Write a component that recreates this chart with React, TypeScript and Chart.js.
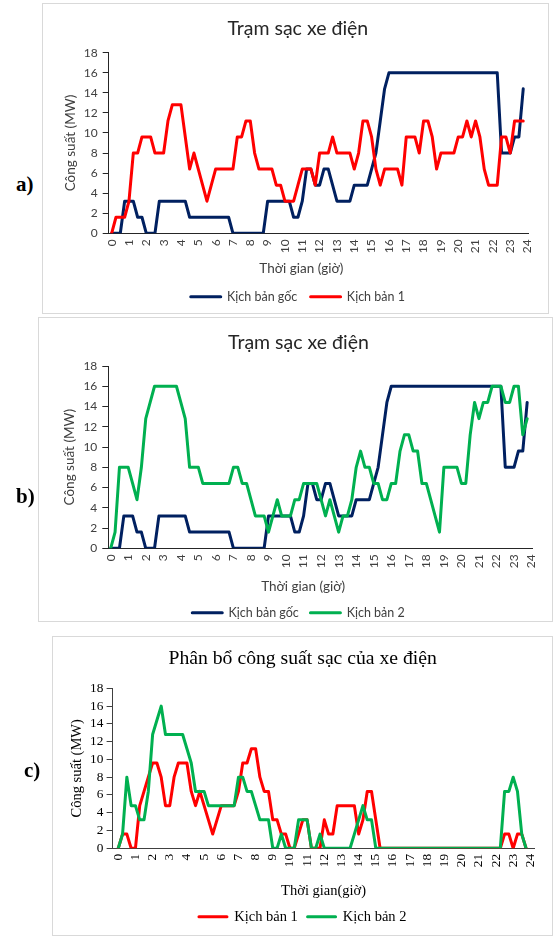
import React, { useEffect, useRef } from "react";
import { Chart, registerables } from "chart.js";

Chart.register(...registerables);

// ---------------- data ----------------
const STEP_HOURS = 0.25;
const HOUR_TICKS = [0, 1, 2, 3, 4, 5, 6, 7, 8, 9, 10, 11, 12, 13, 14, 15, 16, 17, 18, 19, 20, 21, 22, 23, 24];
const Y_MIN = 0;
const Y_MAX = 18;
const Y_STEP = 2;

const LBL_BASE = "Kịch bản gốc";
const LBL_S1 = "Kịch bản 1";
const LBL_S2 = "Kịch bản 2";

// Kịch bản gốc (MW), every 15 minutes from 0:00
const BASE_MW = [
  0, 0, 0, 3.2, 3.2, 3.2, 1.6, 1.6, 0, 0, 0, 3.2,
  3.2, 3.2, 3.2, 3.2, 3.2, 3.2, 1.6, 1.6, 1.6, 1.6, 1.6, 1.6,
  1.6, 1.6, 1.6, 1.6, 0, 0, 0, 0, 0, 0, 0, 0,
  3.2, 3.2, 3.2, 3.2, 3.2, 3.2, 1.6, 1.6, 3.2, 6.4, 6.4, 4.8,
  4.8, 6.4, 6.4, 4.8, 3.2, 3.2, 3.2, 3.2, 4.8, 4.8, 4.8, 4.8,
  6.4, 8.0, 11.2, 14.4, 16, 16, 16, 16, 16, 16, 16, 16,
  16, 16, 16, 16, 16, 16, 16, 16, 16, 16, 16, 16,
  16, 16, 16, 16, 16, 16, 8, 8, 8, 9.6, 9.6, 14.4,
];

// Kịch bản 1 – trạm sạc (MW)
const SCENARIO1_MW = [
  0, 1.6, 1.6, 1.6, 3.2, 8.0, 8.0, 9.6, 9.6, 9.6, 8.0, 8.0,
  8.0, 11.2, 12.8, 12.8, 12.8, 9.6, 6.4, 8.0, 6.4, 4.8, 3.2, 4.8,
  6.4, 6.4, 6.4, 6.4, 6.4, 9.6, 9.6, 11.2, 11.2, 8.0, 6.4, 6.4,
  6.4, 6.4, 4.8, 4.8, 3.2, 3.2, 3.2, 4.8, 6.4, 6.4, 6.4, 4.8,
  8.0, 8.0, 8.0, 9.6, 8.0, 8.0, 8.0, 8.0, 6.4, 8.0, 11.2, 11.2,
  9.6, 6.4, 4.8, 6.4, 6.4, 6.4, 6.4, 4.8, 9.6, 9.6, 9.6, 8.0,
  11.2, 11.2, 9.6, 6.4, 8.0, 8.0, 8.0, 8.0, 9.6, 9.6, 11.2, 9.6,
  11.2, 9.6, 6.4, 4.8, 4.8, 4.8, 9.6, 9.6, 8.0, 11.2, 11.2, 11.2,
];

// Kịch bản 2 – trạm sạc (MW)
const SCENARIO2_MW = [
  0, 1.6, 8.0, 8.0, 8.0, 6.4, 4.8, 8.0, 12.8, 14.4, 16, 16,
  16, 16, 16, 16, 14.4, 12.8, 8.0, 8.0, 8.0, 6.4, 6.4, 6.4,
  6.4, 6.4, 6.4, 6.4, 8.0, 8.0, 6.4, 6.4, 4.8, 3.2, 3.2, 3.2,
  1.6, 3.2, 4.8, 3.2, 3.2, 3.2, 4.8, 4.8, 6.4, 6.4, 6.4, 6.4,
  4.8, 3.2, 4.8, 3.2, 1.6, 3.2, 3.2, 4.8, 8.0, 9.6, 8.0, 8.0,
  6.4, 6.4, 4.8, 4.8, 6.4, 6.4, 9.6, 11.2, 11.2, 9.6, 9.6, 6.4,
  6.4, 4.8, 3.2, 1.6, 8.0, 8.0, 8.0, 8.0, 6.4, 6.4, 11.2, 14.4,
  12.8, 14.4, 14.4, 16, 16, 16, 14.4, 14.4, 16, 16, 11.2, 12.8,
];

// Phân bổ công suất sạc – Kịch bản 1 (MW)
const ALLOC1_MW = [
  0, 1.6, 1.6, 0, 0, 4.8, 6.4, 8.0, 9.6, 9.6, 8.0, 4.8,
  4.8, 8.0, 9.6, 9.6, 9.6, 6.4, 4.8, 6.4, 4.8, 3.2, 1.6, 3.2,
  4.8, 4.8, 4.8, 4.8, 6.4, 9.6, 9.6, 11.2, 11.2, 8.0, 6.4, 6.4,
  3.2, 3.2, 1.6, 1.6, 0, 0, 1.6, 3.2, 3.2, 0, 0, 0,
  3.2, 1.6, 1.6, 4.8, 4.8, 4.8, 4.8, 4.8, 1.6, 3.2, 6.4, 6.4,
  3.2, 0, 0, 0, 0, 0, 0, 0, 0, 0, 0, 0,
  0, 0, 0, 0, 0, 0, 0, 0, 0, 0, 0, 0,
  0, 0, 0, 0, 0, 0, 1.6, 1.6, 0, 1.6, 1.6, 0,
];

// Phân bổ công suất sạc – Kịch bản 2 (MW)
const ALLOC2_MW = [
  0, 1.6, 8.0, 4.8, 4.8, 3.2, 3.2, 6.4, 12.8, 14.4, 16, 12.8,
  12.8, 12.8, 12.8, 12.8, 11.2, 9.6, 6.4, 6.4, 6.4, 4.8, 4.8, 4.8,
  4.8, 4.8, 4.8, 4.8, 8.0, 8.0, 6.4, 6.4, 4.8, 3.2, 3.2, 3.2,
  0, 0, 1.6, 0, 0, 0, 3.2, 3.2, 3.2, 0, 0, 1.6,
  0, 0, 0, 0, 0, 0, 0, 1.6, 3.2, 4.8, 3.2, 3.2,
  0, 0, 0, 0, 0, 0, 0, 0, 0, 0, 0, 0,
  0, 0, 0, 0, 0, 0, 0, 0, 0, 0, 0, 0,
  0, 0, 0, 0, 0, 0, 6.4, 6.4, 8.0, 6.4, 1.6, 0,
];

const NAVY = "#002060";
const RED = "#FF0000";
const GREEN = "#00B050";

// ---------------- panel specs ----------------
type Series = { label: string; values: number[]; color: string };
type Spec = {
  box: { x: number; y: number; w: number; h: number };
  area: { l: number; r: number; t: number; b: number };
  xMin: number;
  xMax: number;
  title: string;
  titleCY: number;
  titleFont: number;
  titleColor: string;
  xTitle: string;
  xTitleCY: number;
  xTitleShift: number;
  yTitle: string;
  yTitleCX: number;
  legendCY: number;
  legendBox: number;
  family: string;
  tickFont: number;
  axisFont: number;
  legendFont: number;
  textColor: string;
  axisColor: string;
  yTickPad: number;
  xTickPad: number;
  series: Series[];
};

const SANS = "Lato, 'Liberation Sans', sans-serif";
const SERIF = "'Liberation Serif', 'Times New Roman', serif";

const PANELS: Spec[] = [
  {
    box: { x: 42, y: 3, w: 507, h: 311 },
    area: { l: 108.7, r: 532.75, t: 52.7, b: 233.3 },
    xMin: -0.17,
    xMax: 24.06,
    title: "Trạm sạc xe điện",
    titleCY: 28.5,
    titleFont: 19.5,
    titleColor: "#262626",
    xTitle: "Thời gian (giờ)",
    xTitleCY: 269,
    xTitleShift: -17,
    yTitle: "Công suất (MW)",
    yTitleCX: 71,
    legendCY: 296.7,
    legendBox: 30,
    family: SANS,
    tickFont: 12,
    axisFont: 13.5,
    legendFont: 12.5,
    textColor: "#404040",
    axisColor: "#262626",
    yTickPad: 5,
    xTickPad: 6,
    series: [
      { label: LBL_BASE, values: BASE_MW, color: NAVY },
      { label: LBL_S1, values: SCENARIO1_MW, color: RED },
    ],
  },
  {
    box: { x: 38, y: 317, w: 515, h: 305 },
    area: { l: 108.3, r: 535.1, t: 366, b: 548.3 },
    xMin: -0.136,
    xMax: 24.06,
    title: "Trạm sạc xe điện",
    titleCY: 342.7,
    titleFont: 19.5,
    titleColor: "#262626",
    xTitle: "Thời gian (giờ)",
    xTitleCY: 586.7,
    xTitleShift: -18,
    yTitle: "Công suất (MW)",
    yTitleCX: 70,
    legendCY: 612.7,
    legendBox: 30,
    family: SANS,
    tickFont: 12,
    axisFont: 13.5,
    legendFont: 12.5,
    textColor: "#404040",
    axisColor: "#262626",
    yTickPad: 5,
    xTickPad: 6,
    series: [
      { label: LBL_BASE, values: BASE_MW, color: NAVY },
      { label: LBL_S2, values: SCENARIO2_MW, color: GREEN },
    ],
  },
  {
    box: { x: 52, y: 636, w: 501, h: 300 },
    area: { l: 112.6, r: 536.6, t: 688.3, b: 848.3 },
    xMin: -0.33,
    xMax: 24.25,
    title: "Phân bổ công suất sạc của xe điện",
    titleCY: 659.3,
    titleFont: 19.7,
    titleColor: "#000000",
    xTitle: "Thời gian(giờ)",
    xTitleCY: 891,
    xTitleShift: 0,
    yTitle: "Công suất (MW)",
    yTitleCX: 77.5,
    legendCY: 916.7,
    legendBox: 28,
    family: SERIF,
    tickFont: 13.33,
    axisFont: 14.5,
    legendFont: 14.5,
    textColor: "#000000",
    axisColor: "#404040",
    yTickPad: 3.3,
    xTickPad: 5.5,
    series: [
      { label: LBL_S1, values: ALLOC1_MW, color: RED },
      { label: LBL_S2, values: ALLOC2_MW, color: GREEN },
    ],
  },
];

// pad a centred title with trailing no-break spaces so that its visible text sits `shift` px to the left
function shiftedText(text: string, shift: number, font: string): string {
  if (!shift) return text;
  const ctx = document.createElement("canvas").getContext("2d");
  if (!ctx) return text;
  ctx.font = font;
  const w = ctx.measureText("\u00A0").width || 3;
  const count = Math.max(0, Math.round((2 * Math.abs(shift)) / w));
  return shift < 0 ? text + "\u00A0".repeat(count) : "\u00A0".repeat(count) + text;
}

function Panel({ s }: { s: Spec }) {
  const ref = useRef<HTMLCanvasElement>(null);
  const cx = s.box.x + 1;
  const cy = s.box.y + 1;
  const cw = s.box.w - 2;
  const axisLH = s.axisFont * 1.2;
  const Hx = s.xTitleCY - s.area.b + axisLH / 2;
  const legendTop = s.area.b + Hx;
  const legendPad = s.legendCY - legendTop - s.legendFont / 2;
  const legendH = s.legendFont + legendPad + 10;
  const bottomExact = legendTop + legendH - cy;
  const ch = Math.ceil(bottomExact);
  const padBottom = ch - bottomExact;
  const titleLH = s.titleFont * 1.2;
  const titlePadTop = s.titleCY - cy - titleLH / 2;
  const titlePadBottom = s.area.t - s.titleCY - titleLH / 2;
  const padLeft = s.yTitleCX - cx - axisLH / 2;
  const yWidth = s.area.l - cx - padLeft;
  const padRight = cx + cw - s.area.r;

  useEffect(() => {
    const n = s.series.length;
    const xTitleText = shiftedText(s.xTitle, s.xTitleShift, `${s.axisFont}px ${s.family}`);
    const chart = new Chart(ref.current as HTMLCanvasElement, {
      type: "line",
      data: {
        datasets: s.series.map((ser, k) => ({
          label: ser.label,
          data: ser.values.map((v, i) => ({ x: i * STEP_HOURS, y: v })),
          borderColor: ser.color,
          backgroundColor: ser.color,
          borderWidth: 3,
          pointRadius: 0,
          pointHoverRadius: 0,
          tension: 0,
          borderJoinStyle: "round",
          borderCapStyle: "round",
          order: n - k,
        })),
      },
      options: {
        animation: false,
        responsive: false,
        devicePixelRatio: 1,
        events: [],
        layout: { padding: { left: padLeft, right: padRight, top: 0, bottom: padBottom } },
        plugins: {
          title: {
            display: true,
            text: s.title,
            color: s.titleColor,
            font: { family: s.family, size: s.titleFont, weight: "normal", lineHeight: 1.2 },
            padding: { top: titlePadTop, bottom: titlePadBottom },
          },
          legend: {
            position: "bottom",
            labels: {
              boxWidth: s.legendBox,
              boxHeight: 0,
              padding: legendPad,
              color: s.textColor,
              font: { family: s.family, size: s.legendFont, lineHeight: 1.2 },
              sort: (a: any, b: any) => a.datasetIndex - b.datasetIndex,
            },
          },
          tooltip: { enabled: false },
        },
        scales: {
          x: {
            type: "linear",
            min: s.xMin,
            max: s.xMax,
            afterBuildTicks: (axis: any) => {
              axis.ticks = HOUR_TICKS.map((v) => ({ value: v }));
            },
            afterFit: (scale: any) => {
              scale.height = Hx;
            },
            ticks: {
              autoSkip: false,
              minRotation: 90,
              maxRotation: 90,
              padding: s.xTickPad,
              color: s.textColor,
              font: { family: s.family, size: s.tickFont, lineHeight: 1.2 },
              callback: (v: any) => String(v),
            },
            grid: { display: false, drawTicks: false },
            border: { display: true, color: s.axisColor, width: 1 },
            title: {
              display: true,
              text: xTitleText,
              color: s.textColor,
              font: { family: s.family, size: s.axisFont, lineHeight: 1.2 },
              padding: { top: 0, bottom: 0 },
            },
          },
          y: {
            type: "linear",
            min: Y_MIN,
            max: Y_MAX,
            afterFit: (scale: any) => {
              scale.width = yWidth;
            },
            ticks: {
              stepSize: Y_STEP,
              autoSkip: false,
              padding: s.yTickPad,
              color: s.textColor,
              font: { family: s.family, size: s.tickFont, lineHeight: 1.2 },
            },
            grid: {
              display: true,
              drawOnChartArea: false,
              drawTicks: true,
              tickLength: 6,
              color: s.axisColor,
            },
            border: { display: true, color: s.axisColor, width: 1 },
            title: {
              display: true,
              text: s.yTitle,
              color: s.textColor,
              font: { family: s.family, size: s.axisFont, lineHeight: 1.2 },
              padding: { top: 0, bottom: 0 },
            },
          },
        },
      } as any,
    });
    return () => chart.destroy();
  }, []);

  return (
    <>
      <div
        style={{
          position: "absolute",
          left: s.box.x,
          top: s.box.y,
          width: s.box.w,
          height: s.box.h,
          boxSizing: "border-box",
          border: "1px solid #d9d9d9",
          background: "#ffffff",
        }}
      />
      <canvas
        ref={ref}
        width={cw}
        height={ch}
        style={{ position: "absolute", left: cx, top: cy, width: cw, height: ch }}
      />
    </>
  );
}

const LETTERS = [
  { text: "a)", x: 16, y: 174 },
  { text: "b)", x: 16, y: 486 },
  { text: "c)", x: 24, y: 760 },
];

export default function App() {
  return (
    <div>
      {PANELS.map((p, i) => (
        <Panel key={i} s={p} />
      ))}
      {LETTERS.map((l) => (
        <div
          key={l.text}
          style={{
            position: "absolute",
            left: l.x,
            top: l.y,
            fontFamily: "'Liberation Serif', 'Times New Roman', serif",
            fontWeight: "bold",
            fontSize: 21,
            lineHeight: "21px",
            color: "#000",
          }}
        >
          {l.text}
        </div>
      ))}
    </div>
  );
}
